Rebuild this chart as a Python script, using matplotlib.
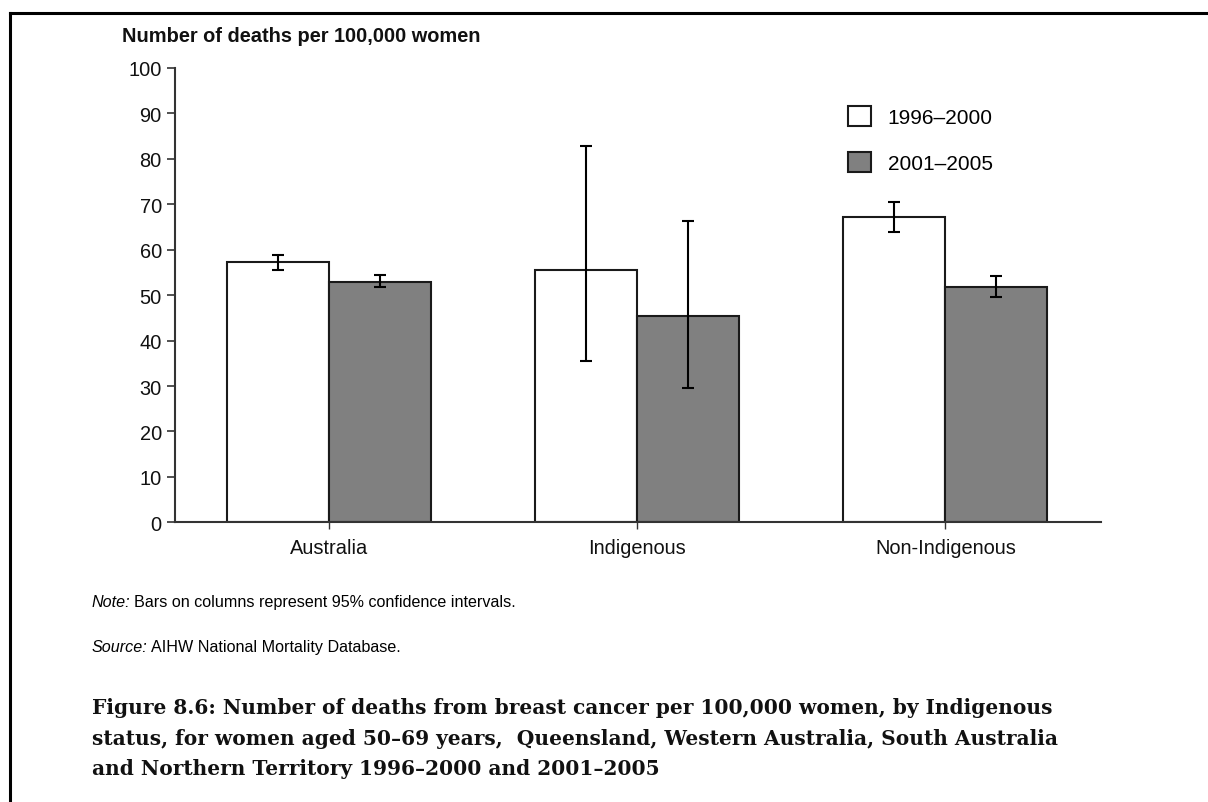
import matplotlib
matplotlib.use("Agg")
import matplotlib.pyplot as plt
from matplotlib.lines import Line2D
import numpy as np

categories = ["Australia", "Indigenous", "Non-Indigenous"]
series_labels = ["1996\u20132000", "2001\u20132005"]
rate_1996_2000 = [57.3, 55.6, 67.2]
lower_1996_2000 = [55.6, 35.6, 64.0]
upper_1996_2000 = [58.8, 82.9, 70.5]
rate_2001_2005 = [52.9, 45.4, 51.8]
lower_2001_2005 = [51.7, 29.6, 49.5]
upper_2001_2005 = [54.5, 66.3, 54.2]
yticks = [0, 10, 20, 30, 40, 50, 60, 70, 80, 90, 100]

W, H = 1208, 803
fig = plt.figure(figsize=(W / 100, H / 100), dpi=100)
plt.rcParams['font.family'] = ['Liberation Sans', 'DejaVu Sans']

def fx(px):
    return px / W

def fy(py):
    return 1 - py / H

ax = fig.add_axes([fx(175), fy(523.3), fx(1101) - fx(175), fy(69) - fy(523.3)])

x = np.arange(len(categories))
w = 0.331
edge = "#1a1a1a"

def err(vals, lo, hi):
    v = np.array(vals); l = np.array(lo); h = np.array(hi)
    return np.vstack([v - l, h - v])

b1 = ax.bar(x - w / 2, rate_1996_2000, width=w, color="white", edgecolor=edge,
            linewidth=1.5, label=series_labels[0], zorder=2)
b2 = ax.bar(x + w / 2, rate_2001_2005, width=w, color="#808080", edgecolor=edge,
            linewidth=1.5, label=series_labels[1], zorder=2)
ax.errorbar(x - w / 2, rate_1996_2000, yerr=err(rate_1996_2000, lower_1996_2000, upper_1996_2000),
            fmt="none", ecolor="black", elinewidth=1.5, capsize=4, capthick=1.5, zorder=3)
ax.errorbar(x + w / 2, rate_2001_2005, yerr=err(rate_2001_2005, lower_2001_2005, upper_2001_2005),
            fmt="none", ecolor="black", elinewidth=1.5, capsize=4, capthick=1.5, zorder=3)

ax.set_xlim(-0.5, 2.505)
ax.set_ylim(0, 100)
ax.set_yticks(yticks)
ax.set_xticks(x)
ax.set_xticklabels(categories)
for s in ["top", "right"]:
    ax.spines[s].set_visible(False)
for s in ["left", "bottom"]:
    ax.spines[s].set_linewidth(1.5)
    ax.spines[s].set_color("#333333")
ax.tick_params(axis="y", direction="out", length=6, width=1.2, color="#333333",
               pad=3.5, labelsize=14.4, labelcolor="#111111")
ax.tick_params(axis="x", direction="out", length=5, width=1.0, color="#333333",
               pad=6, labelsize=14.4, labelcolor="#111111")

leg = ax.legend(handles=[b1, b2], loc="upper left", bbox_to_anchor=(0.727, 0.916),
                frameon=False, fontsize=15, handlelength=1.1, handleheight=1.1,
                handletextpad=0.8, labelspacing=1.2, borderpad=0, borderaxespad=0)

fig.text(fx(122), fy(42.5), "Number of deaths per 100,000 women", fontsize=14.4,
         fontweight="bold", va="baseline", ha="left", color="#111111")

fig.text(fx(92), fy(607), "Note:", fontsize=11.6, style="italic", va="baseline", ha="left")
fig.text(fx(92) + 0.0345, fy(607), "Bars on columns represent 95% confidence intervals.",
         fontsize=11.6, va="baseline", ha="left")
fig.text(fx(92), fy(652), "Source:", fontsize=11.6, style="italic", va="baseline", ha="left")
fig.text(fx(92) + 0.0488, fy(652), "AIHW National Mortality Database.", fontsize=11.6,
         va="baseline", ha="left")

cap_lines = [
    "Figure 8.6: Number of deaths from breast cancer per 100,000 women, by Indigenous",
    "status, for women aged 50\u201369 years,  Queensland, Western Australia, South Australia",
    "and Northern Territory 1996\u20132000 and 2001\u20132005",
]
for line, base in zip(cap_lines, [714, 745, 775]):
    fig.text(fx(92), fy(base), line, fontsize=14.5, fontweight="bold", va="baseline",
             ha="left", family=["DejaVu Serif"], color="#111111")

fig.add_artist(Line2D([fx(10), fx(10)], [fy(14), 0], color="black", lw=2.2,
                      transform=fig.transFigure))
fig.add_artist(Line2D([fx(10), 1], [fy(14), fy(14)], color="black", lw=2.2,
                      transform=fig.transFigure))

fig.savefig("out.png", dpi=100)
